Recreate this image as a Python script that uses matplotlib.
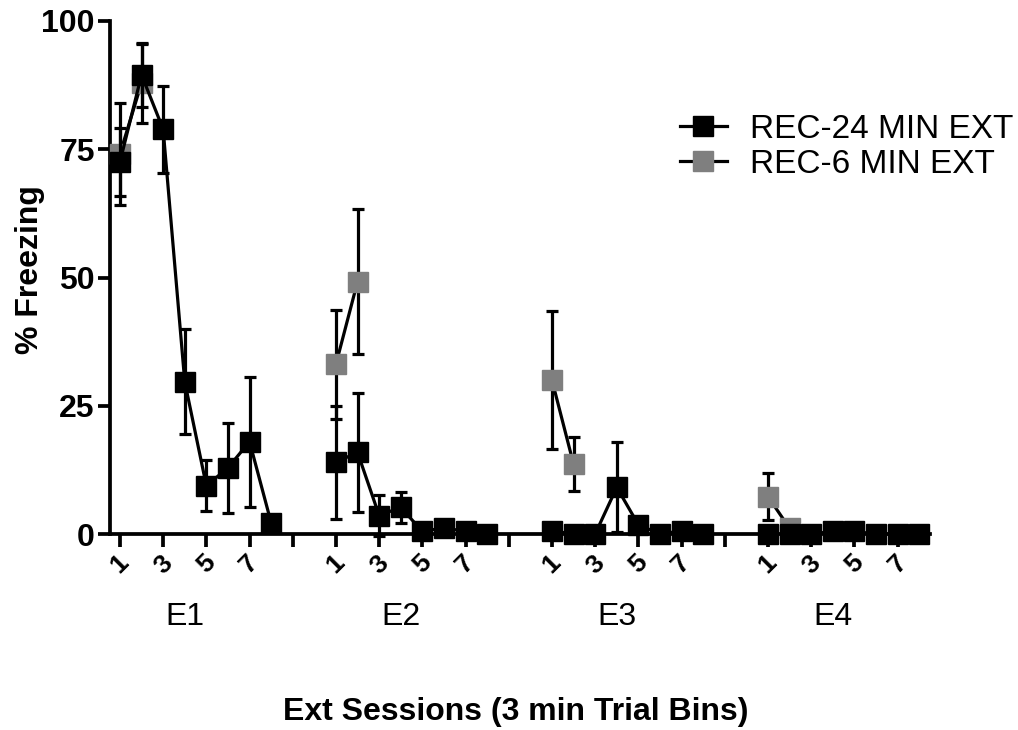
import numpy as np
import matplotlib
matplotlib.use("Agg")
import matplotlib.pyplot as plt
from matplotlib.lines import Line2D
from matplotlib.transforms import blended_transform_factory

plt.rcParams['font.family'] = ['Liberation Sans', 'DejaVu Sans']

# Datos (% freezing, media y SEM) por sesion
sesiones = ["E1", "E2", "E3", "E4"]
bins_24 = [1, 2, 3, 4, 5, 6, 7, 8]
bins_6 = [1, 2]

rec24_media = [
    [72.5, 89.5, 78.9, 29.7, 9.4, 12.9, 18.0, 2.2],
    [14.0, 15.9, 3.6, 5.2, 0.5, 1.2, 0.5, 0.0],
    [0.6, 0.0, 0.0, 9.1, 1.8, 0.0, 0.6, 0.0],
    [0.0, 0.0, 0.0, 0.5, 0.5, 0.0, 0.0, 0.0],
]
rec24_sem = [
    [6.6, 6.2, 8.5, 10.2, 5.0, 8.8, 12.7, 0.0],
    [11.0, 11.6, 4.0, 3.0, 0.0, 0.0, 0.0, 0.0],
    [0.0, 0.0, 0.0, 8.8, 0.0, 0.0, 0.0, 0.0],
    [0.0, 0.0, 0.0, 0.0, 0.0, 0.0, 0.0, 0.0],
]
rec6_media = [
    [74.1, 87.9],
    [33.1, 49.2],
    [30.0, 13.6],
    [7.3, 1.1],
]
rec6_sem = [
    [10.0, 7.7],
    [10.6, 14.2],
    [13.5, 5.3],
    [4.6, 1.0],
]

etiquetas_tick = ["1", "3", "5", "7", ""]
separacion = 10  # posiciones por sesion en el eje x

gris = "#7f7f7f"
estilo = dict(linewidth=2.3, elinewidth=2.3, capsize=4.5, capthick=2.3,
              marker='s', markersize=14.5, ecolor='black',
              color='black', clip_on=False)

fig = plt.figure(figsize=(10.18, 7.3), dpi=100)
ax = fig.add_axes([110 / 1018, 196 / 730, 820 / 1018, 513 / 730])

for i, sesion in enumerate(sesiones):
    x24 = np.array(bins_24) + i * separacion
    x6 = np.array(bins_6) + i * separacion
    # REC-6 (gris) primero, REC-24 (negro) encima
    lineas6 = ax.errorbar(x6, rec6_media[i], yerr=rec6_sem[i], markerfacecolor=gris,
                          markeredgecolor=gris, zorder=3, **estilo)
    lineas24 = ax.errorbar(x24, rec24_media[i], yerr=rec24_sem[i], markerfacecolor='black',
                           markeredgecolor='black', zorder=4, **estilo)
    for cont in (lineas6, lineas24):
        for art in cont.lines[1] + cont.lines[2]:
            art.set_clip_on(False)

# Ejes
ax.set_ylim(0, 100)
ax.set_xlim(0.54, 38.5)
ax.set_yticks([0, 25, 50, 75, 100])
ax.spines['top'].set_visible(False)
ax.spines['right'].set_visible(False)
for lado in ['left', 'bottom']:
    ax.spines[lado].set_linewidth(2.7)
ax.tick_params(axis='both', width=2.7, length=9, direction='out')
ax.tick_params(axis='y', labelsize=23, pad=2)
ax.tick_params(axis='x', labelsize=19, pad=3)
for t in ax.get_yticklabels():
    t.set_fontweight('bold')

posiciones = []
etiquetas = []
for i in range(len(sesiones)):
    for j, lab in enumerate(etiquetas_tick):
        pos = 1 + 2 * j + i * separacion
        if pos <= 38:
            posiciones.append(pos)
            etiquetas.append(lab)
ax.set_xticks(posiciones)
ax.set_xticklabels(etiquetas, rotation=45, fontweight='bold', ha='center', va='top')

# Etiquetas de sesion
trans = blended_transform_factory(ax.transData, ax.transAxes)
for i, sesion in enumerate(sesiones):
    ax.text(4 + i * separacion, -0.162, sesion, transform=trans, ha='center',
            va='center', fontsize=23)

ax.set_xlabel("Ext Sessions (3 min Trial Bins)", fontsize=23, fontweight='bold')
ax.xaxis.label.set_va('center')
ax.xaxis.set_label_coords(0.495, -0.347)
ax.set_ylabel("% Freezing", fontsize=23, fontweight='bold')
ax.yaxis.label.set_va('center')
ax.yaxis.set_label_coords(-0.098, 0.515)

# Leyenda (sin barras de error)
h24 = Line2D([], [], color='black', linewidth=2.3, marker='s', markersize=14.5,
             markerfacecolor='black', markeredgecolor='black')
h6 = Line2D([], [], color='black', linewidth=2.3, marker='s', markersize=14.5,
            markerfacecolor=gris, markeredgecolor=gris)
ax.legend([h24, h6], ["REC-24 MIN EXT", "REC-6 MIN EXT"],
          loc='center left', bbox_to_anchor=(680 / 1018, 1 - 147 / 730),
          bbox_transform=fig.transFigure, frameon=False, fontsize=24,
          handlelength=1.4, handletextpad=0.7, labelspacing=0.12,
          borderpad=0, borderaxespad=0)

fig.savefig("out.png", dpi=100)
